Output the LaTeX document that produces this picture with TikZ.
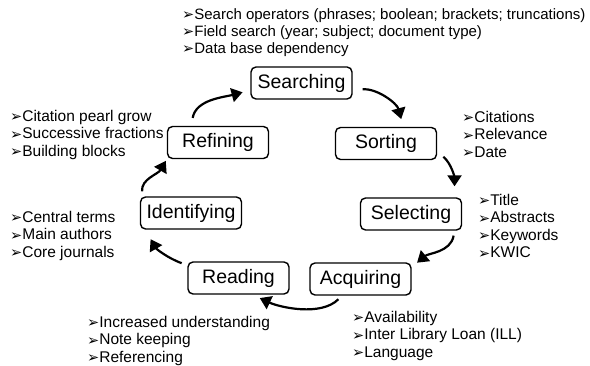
\documentclass[tikz,border=0pt]{standalone}
\usepackage{fontspec}
\setmainfont{Liberation Sans}
\newfontfamily\dingfont{DejaVu Sans}
\usetikzlibrary{arrows.meta}
\newcommand{\ba}{{\dingfont\fontsize{14.5}{12}\selectfont\raisebox{-0.5pt}{➢}}}

\begin{document}
\begin{tikzpicture}[
    x=1pt, y=1pt,
    stage/.style={draw=black, line width=1.4pt, rounded corners=5pt, fill=white,
        minimum width=101pt, minimum height=32pt, inner sep=0pt,
        font=\fontsize{19.5}{22}\selectfont},
    notes/.style={anchor=north west, inner sep=0pt, font=\fontsize{15.5}{17.5}\selectfont},
    cyc/.style={line width=2.2pt, -{Triangle[length=11pt, width=14pt]}}
]
    \useasboundingbox (0,0) rectangle (590,366);

    \node[stage] at (301.5,283) (searching) {Searching};
    \node[stage] at (386,222.5) (sorting) {Sorting};
    \node[stage] at (411,152) (selecting) {Selecting};
    \node[stage] at (360.5,87) (acquiring) {Acquiring};
    \node[stage] at (238.5,88) (reading) {Reading};
    \node[stage] at (191,153) (identifying) {Identifying};
    \node[stage] at (218,223.5) (refining) {Refining};

    \draw[cyc, shorten <=8pt, shorten >=8pt] (refining.148) to[out=80, in=195] (searching.188);
    \draw[cyc, shorten <=10pt, shorten >=8pt] (searching.-8) to[out=5, in=105] (sorting.44);
    \draw[cyc, shorten <=8pt, shorten >=11pt] (sorting.-9.5) to[out=-40, in=90] (selecting.21);
    \draw[cyc, shorten <=5pt, shorten >=7pt] (selecting.-21) to[out=-100, in=40] (acquiring.13);
    \draw[cyc, shorten <=5pt, shorten >=8pt] (acquiring.222) to[out=-135, in=-25, looseness=0.85] (reading.-50);
    \draw[cyc, shorten <=6pt, shorten >=11pt] (reading.166) to[out=160, in=-60] (identifying.200);
    \draw[cyc, shorten <=5pt, shorten >=2pt] (identifying.161) to[out=95, in=240] (refining.south west);

    \node[notes, font=\fontsize{15}{17}\selectfont] at (182,359) (searchnotes) {\begin{tabular}{@{}l@{}}
        \ba Search operators (phrases; boolean; brackets; truncations)\\
        \ba Field search (year; subject; document type)\\
        \ba Data base dependency
    \end{tabular}};
    \node[notes] at (462,256) (sortnotes) {\begin{tabular}{@{}l@{}}
        \ba Citations\\
        \ba Relevance\\
        \ba Date
    \end{tabular}};
    \node[notes] at (478,173) (selectnotes) {\begin{tabular}{@{}l@{}}
        \ba Title\\
        \ba Abstracts\\
        \ba Keywords\\
        \ba KWIC
    \end{tabular}};
    \node[notes] at (352,56) (acquirenotes) {\begin{tabular}{@{}l@{}}
        \ba Availability\\
        \ba Inter Library Loan (ILL)\\
        \ba Language
    \end{tabular}};
    \node[notes] at (87,51) (readnotes) {\begin{tabular}{@{}l@{}}
        \ba Increased understanding\\
        \ba Note keeping\\
        \ba Referencing
    \end{tabular}};
    \node[notes] at (10,156) (identifynotes) {\begin{tabular}{@{}l@{}}
        \ba Central terms\\
        \ba Main authors\\
        \ba Core journals
    \end{tabular}};
    \node[notes] at (10,257) (refinenotes) {\begin{tabular}{@{}l@{}}
        \ba Citation pearl grow\\
        \ba Successive fractions\\
        \ba Building blocks
    \end{tabular}};
\end{tikzpicture}
\end{document}
